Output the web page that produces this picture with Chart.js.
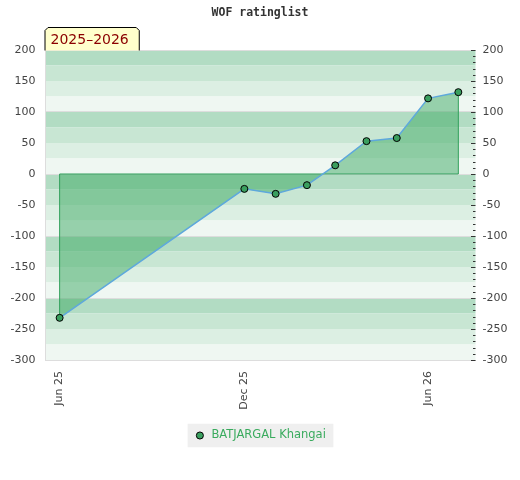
<!DOCTYPE html>
<html>
<head>
<meta charset="utf-8">
<script src="https://cdn.jsdelivr.net/npm/chart.js@4.4.0/dist/chart.umd.min.js"></script>
<style>
html,body{margin:0;padding:0;background:#fff;}
#wrap{width:520px;height:480px;}
</style>
</head>
<body>
<div id="wrap"><canvas id="c" width="520" height="480"></canvas></div>
<script>
// ---- data ----
const titleText = 'WOF ratinglist';
const seasonLabel = '2025–2026';
const playerName = 'BATJARGAL Khangai';
const dates = ['2025-06-01','2025-12-01','2026-01-01','2026-02-01','2026-03-01','2026-04-01','2026-05-01','2026-06-01','2026-07-01'];
const ratingChange = [-232, -24, -32, -18, 14, 53, 58, 122, 132];
const xTickDates = ['2025-06-01','2025-12-01','2026-06-01'];
const xTickLabels = ['Jun 25','Dec 25','Jun 26'];
const xRange = ['2025-05-18','2026-07-18'];
const yRange = [-300, 200];
const bandColors = ['#b2dcc3','#c8e6d3','#dcefe3','#eff7f2'];

const toT = s => Date.parse(s + 'T00:00:00Z');
const points = dates.map((d, i) => ({x: toT(d), y: ratingChange[i]}));

const FONT = 'DejaVu Sans';

const bandsPlugin = {
  id: 'bands',
  beforeDraw(chart) {
    const {ctx, chartArea, scales} = chart;
    const y = scales.y;
    ctx.save();
    for (let v = yRange[1]; v > yRange[0]; v -= 25) {
      const m = ((v % 100) + 100) % 100;
      const k = m === 0 ? 0 : (100 - m) / 25;
      const top = y.getPixelForValue(v);
      const bot = y.getPixelForValue(v - 25);
      ctx.fillStyle = bandColors[k];
      ctx.fillRect(chartArea.left, top, chartArea.right - chartArea.left, bot - top);
    }
    // legend background
    const lg = chart.legend;
    if (lg && lg.legendHitBoxes && lg.legendHitBoxes.length) {
      const hb = lg.legendHitBoxes[0];
      ctx.fillStyle = '#efefef';
      ctx.fillRect(hb.left - 6.5, hb.top - 6, hb.width + 14, hb.height + 12);
    }
    ctx.restore();
  },
  afterDatasetDraw(chart, args) {
    if (args.index !== 1) return;
    const {ctx, scales} = chart;
    const xs = scales.x, ys = scales.y;
    const n = points.length;
    const x0 = xs.getPixelForValue(points[0].x);
    const xn = xs.getPixelForValue(points[n - 1].x);
    const yz = ys.getPixelForValue(0);
    ctx.save();
    ctx.strokeStyle = '#2f9f5a';
    ctx.lineWidth = 1;
    ctx.beginPath();
    ctx.moveTo(x0, ys.getPixelForValue(points[0].y));
    ctx.lineTo(x0, yz);
    ctx.lineTo(xn, yz);
    ctx.lineTo(xn, ys.getPixelForValue(points[n - 1].y));
    ctx.stroke();
    ctx.restore();
  },
  afterDraw(chart) {
    const {ctx, chartArea, scales} = chart;
    const ys = scales.y;
    ctx.save();
    // right minor ticks
    ctx.strokeStyle = '#333';
    ctx.lineWidth = 1;
    for (let v = yRange[0]; v <= yRange[1]; v += 10) {
      const py = Math.round(ys.getPixelForValue(v)) + 0.5;
      const len = (v % 50 === 0) ? 4.5 : 2.5;
      ctx.beginPath();
      ctx.moveTo(chartArea.right - len, py);
      ctx.lineTo(chartArea.right, py);
      ctx.stroke();
    }
    // season label box
    ctx.font = '14px "' + FONT + '"';
    const tw = ctx.measureText(seasonLabel).width;
    const L = chartArea.left - 1 + 0.5, B = chartArea.top + 0.5, T = 27.5;
    const R = L + tw + 16, c = 3;
    ctx.beginPath();
    ctx.moveTo(L, B);
    ctx.lineTo(L, T + c);
    ctx.lineTo(L + c, T);
    ctx.lineTo(R - c, T);
    ctx.lineTo(R, T + c);
    ctx.lineTo(R, B);
    ctx.fillStyle = '#ffffcc';
    ctx.fill();
    ctx.strokeStyle = '#000';
    ctx.stroke();
    ctx.fillStyle = '#8b0000';
    ctx.textBaseline = 'middle';
    ctx.textAlign = 'left';
    ctx.fillText(seasonLabel, L + 5.5, 40.5);
    ctx.restore();
  }
};

new Chart(document.getElementById('c'), {
  type: 'line',
  data: {
    datasets: [
      {
        label: playerName,
        data: points,
        borderColor: '#5ea8dc',
        borderWidth: 1.5,
        fill: false,
        pointRadius: 3.5,
        pointHoverRadius: 3.5,
        pointBackgroundColor: '#3a9f5f',
        pointBorderColor: '#000',
        pointBorderWidth: 1,
        tension: 0
      },
      {
        label: 'area',
        data: points,
        borderWidth: 0,
        borderColor: 'rgba(0,0,0,0)',
        backgroundColor: 'rgba(62,170,99,0.5)',
        fill: 'origin',
        pointRadius: 0,
        tension: 0
      }
    ]
  },
  options: {
    responsive: false,
    animation: false,
    layout: {padding: {left: 0, right: 0, top: 0, bottom: 28.75}},
    plugins: {
      title: {
        display: true,
        text: titleText,
        color: '#333',
        font: {family: 'DejaVu Sans Mono', weight: 'bold', size: 11.5},
        padding: {top: 6, bottom: 30.2}
      },
      legend: {
        display: true,
        position: 'bottom',
        labels: {
          usePointStyle: true,
          boxHeight: 5,
          padding: 10,
          color: '#3aab5e',
          font: {family: FONT, size: 11.5},
          generateLabels: () => [{
            text: playerName,
            fillStyle: '#3a9f5f',
            strokeStyle: '#000',
            lineWidth: 1,
            pointStyle: 'circle',
            datasetIndex: 0,
            fontColor: '#3aab5e',
            hidden: false
          }]
        }
      },
      tooltip: {enabled: false}
    },
    scales: {
      x: {
        type: 'linear',
        min: toT(xRange[0]),
        max: toT(xRange[1]),
        afterBuildTicks: s => { s.ticks = xTickDates.map(d => ({value: toT(d)})); },
        afterFit: s => { s.height = 59.75; },
        grid: {display: false, drawTicks: false},
        border: {display: true, color: '#dddddd'},
        ticks: {
          autoSkip: false,
          minRotation: 90,
          maxRotation: 90,
          padding: 11,
          color: '#444',
          font: {family: FONT, size: 11},
          callback: (v, i) => xTickLabels[i]
        }
      },
      y: {
        position: 'left',
        min: yRange[0],
        max: yRange[1],
        afterFit: s => { s.width = 45.5; },
        grid: {
          drawTicks: false,
          color: c => (c.tick && c.tick.value % 100 === 0) ? '#dddddd' : 'rgba(0,0,0,0)'
        },
        border: {display: true, color: '#dddddd'},
        ticks: {stepSize: 50, padding: 10, color: '#444', font: {family: FONT, size: 11}}
      },
      y2: {
        position: 'right',
        min: yRange[0],
        max: yRange[1],
        afterFit: s => { s.width = 44.5; },
        grid: {display: false, drawTicks: false},
        border: {display: false},
        ticks: {stepSize: 50, padding: 7, color: '#444', font: {family: FONT, size: 11}}
      }
    }
  },
  plugins: [bandsPlugin]
});
</script>
</body>
</html>
